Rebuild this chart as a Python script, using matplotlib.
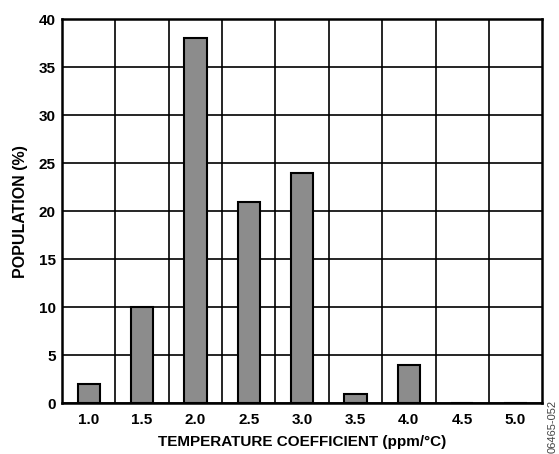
import matplotlib.pyplot as plt
import numpy as np

plt.rcParams['font.family'] = ['Liberation Sans', 'DejaVu Sans']

tempco = ['1.0', '1.5', '2.0', '2.5', '3.0', '3.5', '4.0', '4.5', '5.0']
population = [2, 10, 38, 21, 24, 1, 4, 0, 0]

fig = plt.figure(figsize=(5.59, 4.54), dpi=100)
ax = fig.add_axes([0.111, 0.112, 0.859, 0.846])

x = np.arange(len(tempco))
ax.bar(x, population, width=0.42, color='#8c8c8c', edgecolor='black', linewidth=1.5, zorder=3)

ax.set_xlim(-0.5, len(tempco) - 0.5)
ax.set_ylim(0, 40)
ax.set_yticks(np.arange(0, 41, 5))
ax.set_xticks(x)
ax.set_xticklabels(tempco)
ax.set_xticks(x[:-1] + 0.5, minor=True)

ax.grid(True, which='major', axis='y', color='black', linewidth=1.2, zorder=0)
ax.grid(True, which='minor', axis='x', color='black', linewidth=1.2, zorder=0)
ax.tick_params(which='both', length=0)
ax.tick_params(axis='both', labelsize=11)
ax.tick_params(axis='x', pad=7)
ax.tick_params(axis='y', pad=4.5)
for lab in ax.get_xticklabels() + ax.get_yticklabels():
    lab.set_fontweight('bold')

for s in ax.spines.values():
    s.set_linewidth(1.8)

ax.set_xlabel('TEMPERATURE COEFFICIENT (ppm/°C)', fontsize=11, fontweight='bold', labelpad=6)
ax.set_ylabel('POPULATION (%)', fontsize=11.5, fontweight='bold', labelpad=8)

fig.text(0.988, 0.06, '06465-052', rotation=90, fontsize=8, color='#444444', ha='center', va='center')

fig.savefig('out.png', dpi=100)
